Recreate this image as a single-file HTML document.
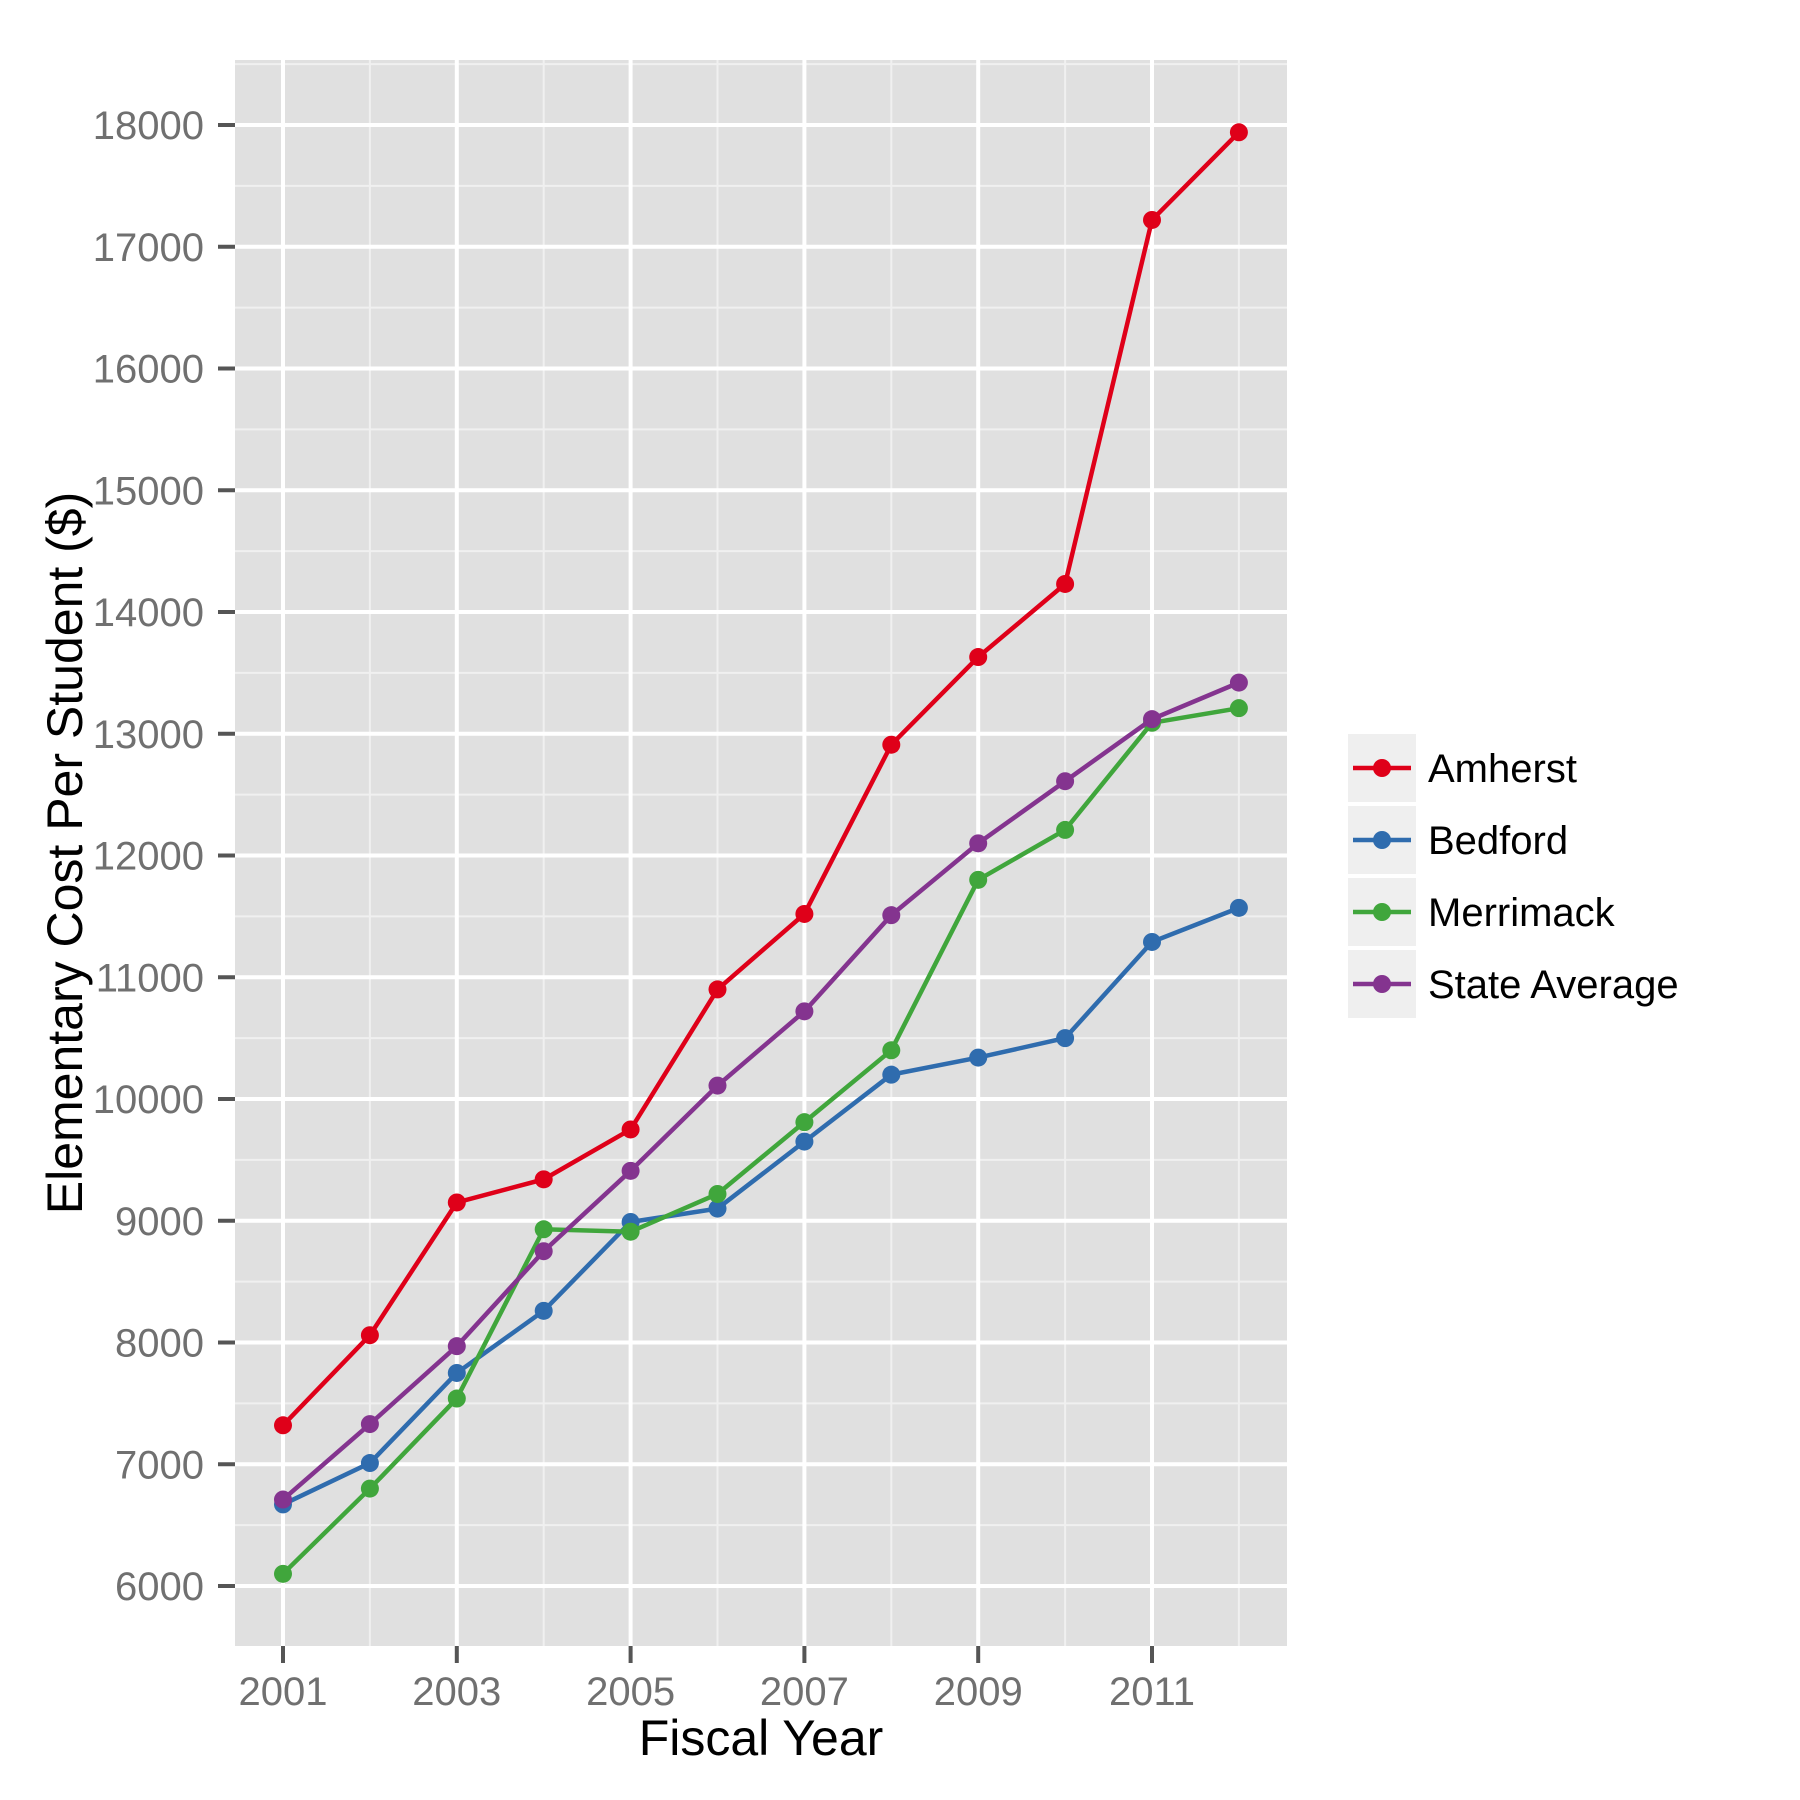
<!DOCTYPE html>
<html><head><meta charset="utf-8"><style>html,body{margin:0;padding:0;background:#fff}svg{display:block}</style></head>
<body>
<svg id="s" width="1800" height="1800" xmlns="http://www.w3.org/2000/svg" font-family="Liberation Sans, Arial, sans-serif"></svg>
<script>
const s=document.getElementById('s');const NS='http://www.w3.org/2000/svg';
function el(t,a,txt){const e=document.createElementNS(NS,t);for(const k in a)e.setAttribute(k,a[k]);if(txt!==undefined)e.textContent=txt;s.appendChild(e);return e;}
const L=235,R=1287,T=60,B=1646;
const X=y=>283+(y-2001)*86.9;
const Y=v=>125+(18000-v)*0.12175;
el('rect',{x:L,y:T,width:R-L,height:B-T,fill:'#e0e0e0'});
for(let v=5500;v<=18500;v+=1000){const y=Y(v);if(y>T&&y<B)el('line',{x1:L,x2:R,y1:y,y2:y,stroke:'#f0f0f0','stroke-width':2});}
for(let yr=2002;yr<=2012;yr+=2){el('line',{x1:X(yr),x2:X(yr),y1:T,y2:B,stroke:'#f0f0f0','stroke-width':2});}
for(let v=6000;v<=18000;v+=1000){const y=Y(v);el('line',{x1:L,x2:R,y1:y,y2:y,stroke:'#fff','stroke-width':4});
el('line',{x1:218,x2:235,y1:y,y2:y,stroke:'#555','stroke-width':4});
el('text',{x:204,y:y+14,'text-anchor':'end','font-size':40,fill:'#707070'},String(v));}
for(let yr=2001;yr<=2011;yr+=2){const x=X(yr);el('line',{x1:x,x2:x,y1:T,y2:B,stroke:'#fff','stroke-width':4});
el('line',{x1:x,x2:x,y1:B,y2:B+17,stroke:'#555','stroke-width':4});
el('text',{x:x,y:1705,'text-anchor':'middle','font-size':40,fill:'#707070'},String(yr));}
const data=[
['Amherst','#df0019',[7320,8060,9150,9340,9750,10900,11520,12910,13630,14230,17220,17940]],
['Bedford','#2f6cae',[6670,7010,7750,8260,8990,9100,9650,10200,10340,10500,11290,11570]],
['Merrimack','#40a63c',[6100,6800,7540,8930,8910,9220,9810,10400,11800,12210,13090,13210]],
['State Average','#84348f',[6710,7330,7970,8750,9410,10110,10720,11510,12100,12610,13120,13420]]];
data.forEach(([n,c,v])=>{el('polyline',{points:v.map((d,i)=>X(2001+i)+','+Y(d)).join(' '),fill:'none',stroke:c,'stroke-width':4.5});
v.forEach((d,i)=>el('circle',{cx:X(2001+i),cy:Y(d),r:9,fill:c}));});
data.forEach(([n,c],i)=>{const top=734+i*72;el('rect',{x:1348,y:top,width:68,height:68,fill:'#efefef'});
const cy=top+34;el('line',{x1:1353,x2:1411,y1:cy,y2:cy,stroke:c,'stroke-width':4.5});el('circle',{cx:1382,cy:cy,r:9,fill:c});
el('text',{x:1428,y:cy+14,'font-size':40,fill:'#000'},n);});
el('text',{x:761,y:1755,'text-anchor':'middle','font-size':50,fill:'#000'},'Fiscal Year');
el('text',{x:0,y:0,'text-anchor':'middle','font-size':50,fill:'#000',transform:'translate(82,853) rotate(-90)'},'Elementary Cost Per Student ($)');
</script>
</body></html>
